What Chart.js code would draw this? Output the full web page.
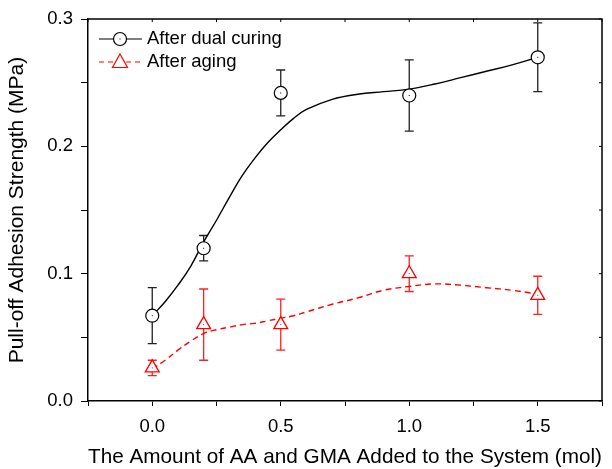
<!DOCTYPE html>
<html>
<head>
<meta charset="utf-8">
<script src="https://cdn.jsdelivr.net/npm/chart.js"></script>
<style>
  html, body { margin: 0; padding: 0; background: #fff; }
  #wrap { width: 612px; height: 469px; }
</style>
</head>
<body>
<div id="wrap"><canvas id="c" width="612" height="469"></canvas></div>
<script>
// measured points
var amounts = [0, 0.2, 0.5, 1.0, 1.5];
var dualCuring = [0.067, 0.120, 0.242, 0.240, 0.270];
var dualCuringErr = [0.022, 0.010, 0.018, 0.028, 0.027];
var aging = [0.026, 0.060, 0.060, 0.100, 0.083];
var agingErr = [0.006, 0.028, 0.020, 0.014, 0.015];

// smoothed curves
var curveX = [0, 0.05, 0.1, 0.15, 0.2, 0.25, 0.3, 0.35, 0.4, 0.45, 0.5, 0.55, 0.6, 0.7, 0.8, 0.9, 1.0, 1.1, 1.2, 1.3, 1.4, 1.5];
var dualCurve = [0.067, 0.078, 0.091, 0.106, 0.125, 0.142, 0.160, 0.177, 0.191, 0.203, 0.213, 0.222, 0.229, 0.237, 0.241, 0.243, 0.245, 0.249, 0.254, 0.259, 0.264, 0.270];
var agingCurve = [0.025, 0.032, 0.040, 0.047, 0.053, 0.056, 0.058, 0.060, 0.061, 0.063, 0.065, 0.067, 0.070, 0.076, 0.081, 0.087, 0.090, 0.092, 0.091, 0.089, 0.087, 0.084];

var xTicks = [0, 0.5, 1.0, 1.5];
var yTicks = [0, 0.1, 0.2, 0.3];

var FONT = 'Liberation Sans, Arial, sans-serif';
var RED = '#ff0000';

function pts(xs, ys) {
  return xs.map(function (x, i) { return { x: x, y: ys[i] }; });
}

// error bars under the markers
var errorBars = {
  id: 'errorBars',
  beforeDatasetsDraw: function (chart) {
    var ctx = chart.ctx, xs = chart.scales.x, ys = chart.scales.y;
    [[dualCuring, dualCuringErr, '#222'], [aging, agingErr, '#ff2020']].forEach(function (s) {
      ctx.save();
      ctx.strokeStyle = s[2];
      ctx.lineWidth = 1.3;
      s[0].forEach(function (v, i) {
        var px = xs.getPixelForValue(amounts[i]);
        var top = ys.getPixelForValue(v + s[1][i]);
        var bot = ys.getPixelForValue(v - s[1][i]);
        ctx.beginPath();
        ctx.moveTo(px, top); ctx.lineTo(px, bot);
        ctx.moveTo(px - 4.5, top); ctx.lineTo(px + 4.5, top);
        ctx.moveTo(px - 4.5, bot); ctx.lineTo(px + 4.5, bot);
        ctx.stroke();
      });
      ctx.restore();
    });
  }
};

// frame: top/right border with inward ticks, centre dots, legend
var extras = {
  id: 'extras',
  afterDraw: function (chart) {
    var ctx = chart.ctx, a = chart.chartArea, xs = chart.scales.x, ys = chart.scales.y;
    ctx.save();
    ctx.strokeStyle = '#000';
    ctx.lineWidth = 1.5;
    ctx.beginPath();
    ctx.moveTo(a.left, a.top); ctx.lineTo(a.right, a.top); ctx.lineTo(a.right, a.bottom);
    ctx.stroke();
    ctx.lineWidth = 1;
    ctx.beginPath();
    for (var v = -0.25; v <= 1.75; v += 0.25) {
      var px = xs.getPixelForValue(v);
      ctx.moveTo(px, a.top); ctx.lineTo(px, a.top + 3);
    }
    for (var w = 0; w <= 0.3001; w += 0.05) {
      var py = ys.getPixelForValue(w);
      ctx.moveTo(a.right, py); ctx.lineTo(a.right - 3, py);
    }
    ctx.stroke();

    // tiny centre dots in markers
    ctx.fillStyle = '#000';
    dualCuring.forEach(function (v, i) {
      ctx.fillRect(xs.getPixelForValue(amounts[i]) - 0.5, ys.getPixelForValue(v) - 0.5, 1, 1);
    });
    ctx.fillStyle = RED;
    aging.forEach(function (v, i) {
      ctx.fillRect(xs.getPixelForValue(amounts[i]) - 0.5, ys.getPixelForValue(v) - 0.5, 1, 1);
    });

    // legend
    ctx.font = '18.5px ' + FONT;
    ctx.textBaseline = 'middle';
    ctx.lineWidth = 1.2;
    ctx.strokeStyle = '#000';
    ctx.beginPath(); ctx.moveTo(99, 39); ctx.lineTo(142, 39); ctx.stroke();
    ctx.fillStyle = '#fff';
    ctx.beginPath(); ctx.arc(120, 39, 6.5, 0, Math.PI * 2); ctx.fill(); ctx.stroke();
    ctx.fillStyle = '#000';
    ctx.fillRect(119.5, 38.5, 1, 1);
    ctx.fillText('After dual curing', 147, 39);

    ctx.strokeStyle = RED;
    ctx.setLineDash([5, 4]);
    ctx.beginPath(); ctx.moveTo(99, 62); ctx.lineTo(142, 62); ctx.stroke();
    ctx.setLineDash([]);
    ctx.fillStyle = '#fff';
    ctx.beginPath();
    ctx.moveTo(120, 54); ctx.lineTo(127.5, 67.5); ctx.lineTo(112.5, 67.5); ctx.closePath();
    ctx.fill(); ctx.stroke();
    ctx.fillStyle = '#000';
    ctx.fillText('After aging', 147, 62);
    ctx.restore();
  }
};

new Chart(document.getElementById('c').getContext('2d'), {
  type: 'scatter',
  data: {
    datasets: [
      {
        label: 'After dual curing',
        data: pts(amounts, dualCuring),
        pointStyle: 'circle', pointRadius: 6.5, pointHoverRadius: 6.5,
        pointBackgroundColor: '#fff', pointBorderColor: '#000', pointBorderWidth: 1.2,
        showLine: false, order: 0
      },
      {
        label: 'After aging',
        data: pts(amounts, aging),
        pointStyle: 'triangle', pointRadius: 8, pointHoverRadius: 8,
        pointBackgroundColor: '#fff', pointBorderColor: RED, pointBorderWidth: 1.3,
        showLine: false, order: 0
      },
      {
        label: 'dual fit',
        data: pts(curveX, dualCurve),
        showLine: true, pointRadius: 0, borderColor: '#000', borderWidth: 1.4,
        tension: 0.4, fill: false, order: 1
      },
      {
        label: 'aging fit',
        data: pts(curveX, agingCurve),
        showLine: true, pointRadius: 0, borderColor: RED, borderWidth: 1.4, borderDash: [6, 4],
        tension: 0.4, fill: false, order: 1
      }
    ]
  },
  options: {
    responsive: false,
    animation: false,
    events: [],
    layout: { padding: { top: 19, right: 7, left: 0, bottom: 0 } },
    plugins: { legend: { display: false }, tooltip: { enabled: false } },
    scales: {
      x: {
        type: 'linear', min: -0.25, max: 1.75,
        afterFit: function (s) { s.height = 68; },
        grid: { drawOnChartArea: false, tickLength: 5, color: '#000', tickWidth: 1 },
        border: { color: '#000', width: 1.5 },
        ticks: {
          stepSize: 0.25, color: '#000', padding: 10, maxRotation: 0,
          font: { family: FONT, size: 18.5 },
          callback: function (v) {
            return xTicks.some(function (t) { return Math.abs(t - v) < 1e-6; }) ? v.toFixed(1) : '';
          }
        },
        title: {
          display: true, text: 'The Amount of AA and GMA Added to the System (mol)',
          color: '#000', font: { family: FONT, size: 21 }, padding: { top: 0, bottom: -1 }
        }
      },
      y: {
        type: 'linear', min: 0, max: 0.3,
        afterFit: function (s) { s.width = 88; },
        grid: { drawOnChartArea: false, tickLength: 7, color: '#000', tickWidth: 1 },
        border: { color: '#000', width: 1.5 },
        ticks: {
          stepSize: 0.05, color: '#000', padding: 8,
          font: { family: FONT, size: 18.5 },
          callback: function (v) {
            return yTicks.some(function (t) { return Math.abs(t - v) < 1e-6; }) ? v.toFixed(1) : '';
          }
        },
        title: {
          display: true, text: 'Pull-off Adhesion Strength (MPa)',
          color: '#000', font: { family: FONT, size: 21 }, padding: { top: 5, bottom: 0 }
        }
      }
    }
  },
  plugins: [errorBars, extras]
});
</script>
</body>
</html>
